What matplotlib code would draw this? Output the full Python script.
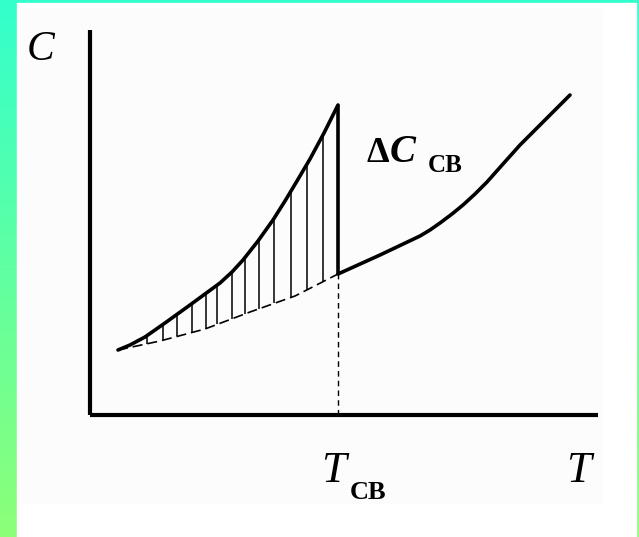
import numpy as np
import matplotlib
matplotlib.use('Agg')
import matplotlib.pyplot as plt
from matplotlib.patches import Rectangle

# Heat capacity sketch near the superconducting transition (arbitrary units)
T_sc = [0.56, 0.80, 1.10, 1.50, 2.00, 2.30, 2.60, 2.84, 3.06, 3.36, 3.66, 3.90, 4.14, 4.40, 4.68, 4.96]
C_sc = [1.30, 1.40, 1.56, 1.84, 2.20, 2.42, 2.64, 2.86, 3.10, 3.48, 3.90, 4.28, 4.68, 5.12, 5.64, 6.20]

# normal state extrapolated below Tc (dashed)
T_base = [0.56, 1.4, 2.3, 3.2, 4.1, 4.96]
C_base = [1.3, 1.48, 1.72, 2.06, 2.38, 2.82]

# normal state above Tc
T_n = [4.96, 5.80, 6.60, 6.80, 7.00, 7.24, 7.46, 7.70, 7.94, 8.26, 8.60, 9.14, 9.60]
C_n = [2.82, 3.20, 3.58, 3.70, 3.84, 4.02, 4.20, 4.42, 4.66, 5.02, 5.40, 5.94, 6.40]

Tc = 4.96
hatch_T = [1.14, 1.46, 1.74, 2.04, 2.32, 2.54, 2.84, 3.1, 3.38, 3.68, 4.02, 4.34, 4.66]

W, H = 639, 537
fig = plt.figure(figsize=(W / 100, H / 100), dpi=100)

# gradient frame
bg = fig.add_axes([0, 0, 1, 1])
grad = np.linspace(0, 1, 256)[:, None, None]
top = np.array([0.20, 1.0, 0.80])
bot = np.array([0.55, 1.0, 0.47])
img = top * (1 - grad) + bot * grad
bg.imshow(img, aspect='auto', extent=[0, W, H, 0])
bg.add_patch(Rectangle((17, 3), 619, 534, color='white'))
bg.add_patch(Rectangle((20, 9), 582, 494, color='#fcfcfc'))
bg.set_xlim(0, W)
bg.set_ylim(H, 0)
bg.axis('off')

# main diagram
x0, y0, x1, y1 = 90, 415, 598, 30
ax = fig.add_axes([x0 / W, 1 - y0 / H, (x1 - x0) / W, (y0 - y1) / H])
ax.set_xlim(0, (x1 - x0) / 50)
ax.set_ylim(0, (y0 - y1) / 50)
ax.patch.set_alpha(0)
for s in ['top', 'right']:
    ax.spines[s].set_visible(False)
for s in ['left', 'bottom']:
    ax.spines[s].set_linewidth(3)
    ax.spines[s].set_capstyle('butt')
ax.set_xticks([])
ax.set_yticks([])

ax.plot(T_sc, C_sc, color='black', lw=2.6, solid_joinstyle='round', solid_capstyle='round')
ax.plot([Tc, Tc], [C_base[-1], C_sc[-1]], color='black', lw=2.6, solid_capstyle='butt')
ax.plot(T_n, C_n, color='black', lw=2.6, solid_joinstyle='round', solid_capstyle='round')
ax.plot(T_base, C_base, color='black', lw=1.2, linestyle=(0, (6, 3)))
ax.plot([Tc, Tc], [0, C_base[-1]], color='black', lw=1.0, linestyle=(0, (4, 3)))

lo = np.interp(hatch_T, T_base, C_base)
hi = np.interp(hatch_T, T_sc, C_sc)
ax.vlines(hatch_T, lo, hi, color='black', lw=1.1)

serif = 'Liberation Serif'
def ftext(x, y, s, **kw):
    fig.text(x / W, 1 - y / H, s, family=serif, va='baseline', ha='left', **kw)

ftext(27, 60, 'C', fontsize=30, style='italic')
ftext(566, 482, 'T', fontsize=32, style='italic')
ftext(321, 482, 'T', fontsize=32, style='italic')
ftext(350, 499, 'СВ', fontsize=19, weight='bold')
ftext(366, 162, 'Δ', fontsize=26, weight='bold')
ftext(390, 162, 'C', fontsize=28, weight='bold', style='italic')
ftext(428, 172, 'СВ', fontsize=18, weight='bold')

fig.savefig('out.png', dpi=100)
